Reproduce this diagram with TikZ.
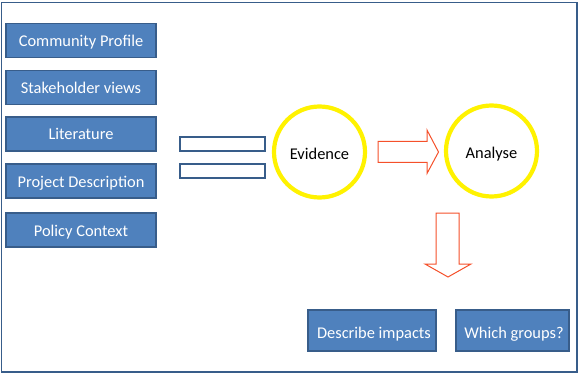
\documentclass[tikz,border=0pt]{standalone}
\usepackage{fontspec}
\setmainfont{Carlito}
\definecolor{boxfill}{HTML}{4F81BD}
\definecolor{boxline}{HTML}{385D8A}
\definecolor{arrowred}{HTML}{F5502A}
\begin{document}
\begin{tikzpicture}[x=1pt,y=-1pt,
  bluebox/.style={draw=boxline,line width=1.6pt,fill=boxfill,text=white,inner sep=0pt,
     font=\fontsize{16.4}{19}\selectfont,text height=14pt,text depth=2pt},
  bar/.style={draw=boxline,line width=1.6pt,fill=white,inner sep=0pt,minimum width=85pt,minimum height=14pt},
  ring/.style={circle,draw=yellow,line width=4.2pt,fill=white,minimum size=91pt,inner sep=0pt,
     font=\fontsize{16.4}{19}\selectfont,text height=16pt,text depth=0pt},
  hollow/.style={draw=arrowred,line width=1pt,fill=white,line join=miter}]
\useasboundingbox (0,0) rectangle (580,374);
\draw[draw=boxline,line width=1.8pt] (1.5,2.5) rectangle (577,372);
\foreach \n/\yc/\t in {cp/40.5/Community Profile, sv/87.5/Stakeholder views, li/134/Literature, pd/181/Project Description, pc/230/Policy Context}{
  \node[bluebox,minimum width=150pt,minimum height=34pt] (\n) at (81,\yc) {\t};
}
\node[bar] (b1) at (222.5,144) {};
\node[bar] (b2) at (222.5,171) {};
\node[ring] (ev) at (319.5,152) {Evidence};
\node[ring] (an) at (491.5,151) {Analyse};
% right arrow
\coordinate (ra) at (378,152);
\draw[hollow] (ra) ++(0,-10.5) -- ++(49,0) -- ++(0,-11.5) -- (438.5,152) -- (427,173.5) -- ++(0,-11) -- (378,162.5) -- cycle;
% down arrow
\coordinate (da) at (447.5,213);
\draw[hollow] (da) ++(-11.5,0) -- ++(23,0) -- (459,264) -- (471,264) -- (448,277) -- (425,264) -- (436,264) -- cycle;
\node[bluebox,minimum width=128pt,minimum height=41pt,text height=16pt,text depth=1pt] (di) at (372,330.5) {\hspace*{4pt}Describe impacts};
\node[bluebox,minimum width=113pt,minimum height=41pt,text height=16pt,text depth=1pt] (wg) at (512.5,330.5) {\hspace*{3pt}Which groups?};
\end{tikzpicture}
\end{document}
